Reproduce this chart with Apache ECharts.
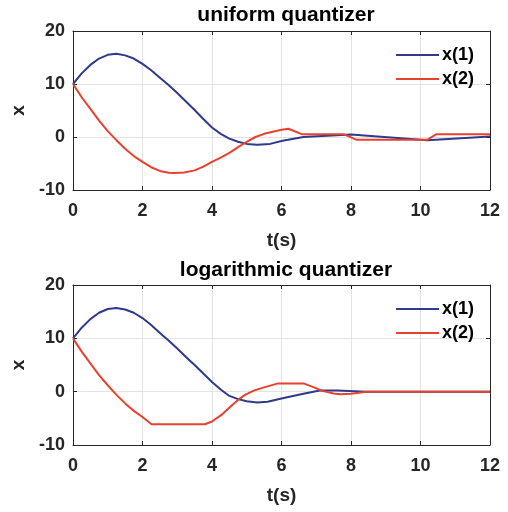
<!DOCTYPE html>
<html>
<head>
<meta charset="utf-8">
<script src="https://cdn.jsdelivr.net/npm/echarts@6/dist/echarts.min.js"></script>
<style>
  html, body { margin: 0; padding: 0; background: #fff; }
</style>
</head>
<body>
<div id="chart" style="width:508px;height:512px;"></div>
<script type="text/javascript">
// uniform quantizer
var tU1 = [0, 0.25, 0.5, 0.75, 1.0, 1.25, 1.5, 1.75, 2.0, 2.25, 2.5, 2.75, 3.0, 3.25, 3.5, 3.75, 4.0, 4.25, 4.5, 4.75, 5.0, 5.3, 5.67, 6.03, 6.63, 8.0, 10.2, 12];
var xU1 = [10, 12.0, 13.6, 14.8, 15.5, 15.7, 15.4, 14.8, 13.8, 12.6, 11.2, 9.8, 8.3, 6.7, 5.1, 3.4, 1.8, 0.6, -0.3, -0.9, -1.3, -1.45, -1.3, -0.7, 0, 0.45, -0.6, 0.1];
var tU2 = [0, 0.25, 0.5, 0.75, 1.0, 1.25, 1.5, 1.75, 2.0, 2.25, 2.5, 2.75, 2.9, 3.2, 3.5, 3.75, 4.0, 4.25, 4.5, 4.75, 5.0, 5.25, 5.5, 5.75, 6.0, 6.2, 6.6, 7.8, 8.15, 10.2, 10.45, 12];
var xU2 = [10, 7.5, 5.3, 3.1, 1.1, -0.6, -2.2, -3.6, -4.7, -5.7, -6.4, -6.75, -6.8, -6.7, -6.3, -5.6, -4.7, -3.9, -3.0, -1.9, -0.9, 0, 0.6, 1.0, 1.35, 1.55, 0.5, 0.5, -0.5, -0.5, 0.5, 0.5];

// logarithmic quantizer
var tL1 = [0, 0.25, 0.5, 0.75, 1.0, 1.25, 1.5, 1.75, 2.0, 2.25, 2.5, 2.75, 3.0, 3.25, 3.5, 3.75, 4.0, 4.25, 4.5, 4.75, 5.0, 5.3, 5.6, 6.03, 6.63, 7.1, 7.6, 8.45, 12];
var xL1 = [10, 12.0, 13.6, 14.8, 15.5, 15.7, 15.4, 14.8, 13.8, 12.5, 11.0, 9.6, 8.1, 6.5, 5.0, 3.4, 1.8, 0.4, -0.8, -1.4, -1.8, -2.05, -1.9, -1.25, -0.4, 0.2, 0.2, 0, 0];
var tL2 = [0, 0.25, 0.5, 0.75, 1.0, 1.25, 1.5, 1.75, 2.0, 2.26, 3.8, 4.0, 4.3, 4.6, 4.8, 4.95, 5.2, 5.5, 5.9, 6.63, 6.9, 7.2, 7.5, 7.7, 8.0, 8.45, 12];
var xL2 = [10, 7.5, 5.3, 3.1, 1.2, -0.6, -2.2, -3.6, -4.75, -6.1, -6.1, -5.6, -4.2, -2.4, -1.3, -0.6, 0.2, 0.8, 1.55, 1.55, 0.9, 0.1, -0.35, -0.5, -0.4, 0, 0];

var titles = ['uniform quantizer', 'logarithmic quantizer'];
var names = ['x(1)', 'x(2)'];
var colors = ['#2e3a8c', '#e8412f'];

function pairs(t, v) {
  return t.map(function (d, i) { return [d, v[i]]; });
}

var font = 'Liberation Sans, Arial, Helvetica, sans-serif';
var grids = [
  { left: 73, width: 417, top: 31, height: 159 },
  { left: 73, width: 417, top: 285, height: 160 }
];

var xAxes = [], yAxes = [];
grids.forEach(function (g, i) {
  xAxes.push({
    gridIndex: i, type: 'value', min: 0, max: 12, interval: 2, position: 'bottom',
    name: 't(s)', nameLocation: 'middle', nameGap: 41,
    nameTextStyle: { fontFamily: font, fontWeight: 'bold', fontSize: 19, color: '#262626' },
    axisLine: { show: true, onZero: false, lineStyle: { color: '#262626', width: 1 } },
    axisTick: { show: true, inside: true, length: 4, lineStyle: { color: '#262626' } },
    axisLabel: { fontFamily: font, fontWeight: 'bold', fontSize: 18, color: '#262626', margin: 12 },
    splitLine: { show: true, lineStyle: { color: '#e3e3e3', width: 1 } }
  });
  xAxes.push({
    gridIndex: i, type: 'value', min: 0, max: 12, interval: 2, position: 'top',
    axisLine: { show: true, onZero: false, lineStyle: { color: '#262626', width: 1 } },
    axisTick: { show: true, inside: true, length: 4, lineStyle: { color: '#262626' } },
    axisLabel: { show: false },
    splitLine: { show: false }
  });
  yAxes.push({
    gridIndex: i, type: 'value', min: -10, max: 20, interval: 10, position: 'left',
    name: 'x', nameLocation: 'middle', nameGap: 38,
    nameTextStyle: { fontFamily: font, fontWeight: 'bold', fontSize: 19, color: '#262626' },
    axisLine: { show: true, onZero: false, lineStyle: { color: '#262626', width: 1 } },
    axisTick: { show: true, inside: true, length: 4, lineStyle: { color: '#262626' } },
    axisLabel: { fontFamily: font, fontWeight: 'bold', fontSize: 18, color: '#262626', margin: 8 },
    splitLine: { show: true, lineStyle: { color: '#e3e3e3', width: 1 } }
  });
  yAxes.push({
    gridIndex: i, type: 'value', min: -10, max: 20, interval: 10, position: 'right',
    axisLine: { show: true, onZero: false, lineStyle: { color: '#262626', width: 1 } },
    axisTick: { show: true, inside: true, length: 4, lineStyle: { color: '#262626' } },
    axisLabel: { show: false },
    splitLine: { show: false }
  });
});

function line(name, data, color, gi) {
  return {
    name: name, type: 'line', data: data,
    xAxisIndex: gi * 2, yAxisIndex: gi * 2,
    symbol: 'none', smooth: false,
    lineStyle: { color: color, width: 2 },
    itemStyle: { color: color }
  };
}

var myChart = echarts.init(document.getElementById('chart'));
var option = {
  backgroundColor: '#ffffff',
  animation: false,
  title: titles.map(function (t, i) {
    return {
      text: t, left: 281, top: i === 0 ? 0 : 255, textAlign: 'center',
      textStyle: { fontFamily: font, fontWeight: 'bold', fontSize: 21, color: '#000' }
    };
  }),
  legend: grids.map(function (g, i) {
    return {
      data: names, orient: 'vertical', left: 391, top: g.top + 10,
      icon: 'rect', itemWidth: 43, itemHeight: 2, itemGap: 6,
      textStyle: { fontFamily: font, fontWeight: 'bold', fontSize: 18, color: '#000', padding: [0, 0, 0, -2] }
    };
  }),
  grid: grids,
  xAxis: xAxes,
  yAxis: yAxes,
  series: [
    line(names[0], pairs(tU1, xU1), colors[0], 0),
    line(names[1], pairs(tU2, xU2), colors[1], 0),
    line(names[0], pairs(tL1, xL1), colors[0], 1),
    line(names[1], pairs(tL2, xL2), colors[1], 1)
  ]
};
myChart.setOption(option);
</script>
</body>
</html>
